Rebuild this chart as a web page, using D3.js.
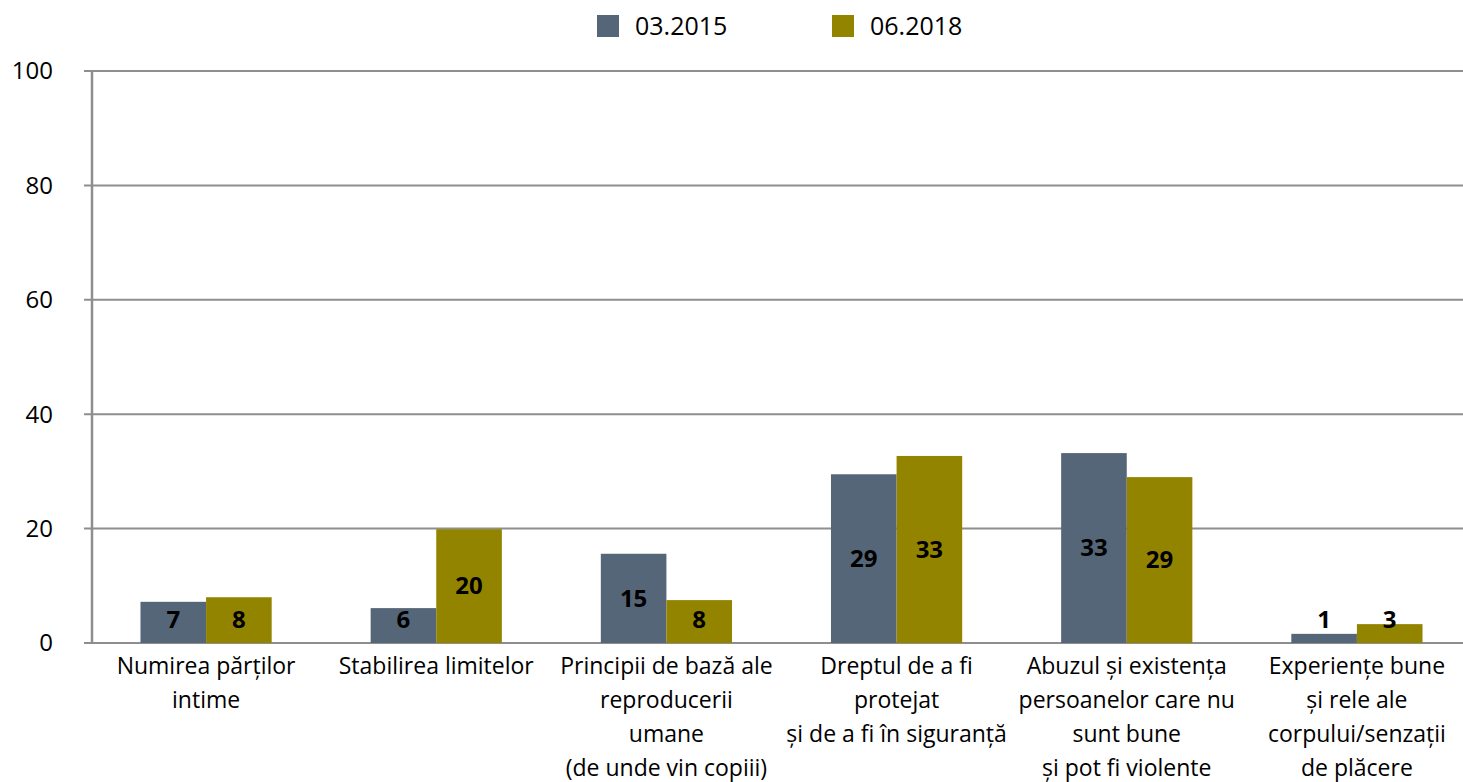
<!DOCTYPE html>
<html>
<head>
<meta charset="utf-8">
<script src="https://cdn.jsdelivr.net/npm/d3@7"></script>
<style>
  body { margin: 0; background: #fff; overflow: hidden; }
  svg text { font-family: "Open Sans", "Noto Sans", sans-serif; fill: #000; }
</style>
</head>
<body>
<div id="chart"></div>
<script>
// categories (one array of lines per category label)
var categories = [
  ["Numirea părților", "intime"],
  ["Stabilirea limitelor"],
  ["Principii de bază ale", "reproducerii", "umane", "(de unde vin copiii)"],
  ["Dreptul de a fi", "protejat", "și de a fi în siguranță"],
  ["Abuzul și existența", "persoanelor care nu", "sunt bune", "și pot fi violente"],
  ["Experiențe bune", "și rele ale", "corpului/senzații", "de plăcere"]
];
var seriesNames = ["03.2015", "06.2018"];
var values2015 = [7.2, 6.1, 15.6, 29.5, 33.2, 1.6];
var values2018 = [8.0, 19.9, 7.5, 32.7, 29.0, 3.3];
// data labels as printed on the chart
var labels2015 = [7, 6, 15, 29, 33, 1];
var labels2018 = [8, 20, 8, 33, 29, 3];
var yTicks = [0, 20, 40, 60, 80, 100];

var colors = ["#566679", "#938400"];

var width = 1463, height = 782;
var plotLeft = 91, plotRight = 1472, plotTop = 71, plotBottom = 643;

var svg = d3.select("#chart").append("svg")
    .attr("width", width)
    .attr("height", height);

var x0 = d3.scaleBand()
    .domain(d3.range(categories.length))
    .range([plotLeft, plotRight])
    .paddingInner(0.43)
    .paddingOuter(0.215);

var x1 = d3.scaleBand()
    .domain([0, 1])
    .range([0, x0.bandwidth()]);

var y = d3.scaleLinear().domain([0, 100]).range([plotBottom, plotTop]);

// gridlines
svg.append("g")
  .selectAll("line")
  .data(yTicks)
  .enter().append("line")
    .attr("x1", plotLeft - 7)
    .attr("x2", plotRight)
    .attr("y1", function(d) { return y(d); })
    .attr("y2", function(d) { return y(d); })
    .attr("stroke", "#8e8e8e")
    .attr("stroke-width", 2);

// y axis line
svg.append("line")
    .attr("x1", plotLeft + 1).attr("x2", plotLeft + 1)
    .attr("y1", plotTop).attr("y2", plotBottom)
    .attr("stroke", "#8e8e8e")
    .attr("stroke-width", 2.5);

// y tick labels
svg.append("g")
  .selectAll("text")
  .data(yTicks)
  .enter().append("text")
    .attr("x", 53)
    .attr("y", function(d) { return y(d); })
    .attr("dy", "0.35em")
    .attr("text-anchor", "end")
    .style("font-size", "24px")
    .text(function(d) { return d; });

var rows = categories.map(function(c, i) {
  return { i: i, vals: [values2015[i], values2018[i]], labs: [labels2015[i], labels2018[i]] };
});

var groups = svg.append("g")
  .selectAll("g")
  .data(rows)
  .enter().append("g")
    .attr("transform", function(d) { return "translate(" + x0(d.i) + ",0)"; });

var bars = groups.selectAll("g.bar")
  .data(function(d) { return d.vals.map(function(v, k) { return { k: k, v: v, lab: d.labs[k] }; }); })
  .enter().append("g").attr("class", "bar");

bars.append("rect")
    .attr("x", function(d) { return x1(d.k); })
    .attr("width", x1.bandwidth())
    .attr("y", function(d) { return y(d.v); })
    .attr("height", function(d) { return plotBottom - y(d.v); })
    .attr("fill", function(d) { return colors[d.k]; });

// value labels, centered but kept above the axis
bars.append("text")
    .attr("x", function(d) { return x1(d.k) + x1.bandwidth() / 2; })
    .attr("y", function(d) {
      var c = (y(d.v) + plotBottom) / 2;
      return Math.min(c, plotBottom - 23);
    })
    .attr("dy", "0.35em")
    .attr("text-anchor", "middle")
    .style("font-size", "24px")
    .style("font-weight", "bold")
    .text(function(d) { return d.lab; });

// category labels
var catLabels = svg.append("g")
  .selectAll("text")
  .data(categories)
  .enter().append("text")
    .attr("x", function(d, i) { return x0(i) + x0.bandwidth() / 2; })
    .attr("y", 666)
    .attr("text-anchor", "middle")
    .style("font-size", "23px");

catLabels.selectAll("tspan")
  .data(function(d) { return d; })
  .enter().append("tspan")
    .attr("x", function() { return d3.select(this.parentNode).attr("x"); })
    .attr("dy", function(d, j) { return j === 0 ? "0.35em" : "34px"; })
    .text(function(d) { return d; });

// legend
var legend = svg.append("g")
  .selectAll("g")
  .data(seriesNames)
  .enter().append("g")
    .attr("transform", function(d, i) { return "translate(" + (597 + i * 235) + ",15)"; });

legend.append("rect")
    .attr("width", 22).attr("height", 22)
    .attr("fill", function(d, i) { return colors[i]; });

legend.append("text")
    .attr("x", 38)
    .attr("y", 11)
    .attr("dy", "0.35em")
    .style("font-size", "25px")
    .text(function(d) { return d; });
</script>
</body>
</html>
